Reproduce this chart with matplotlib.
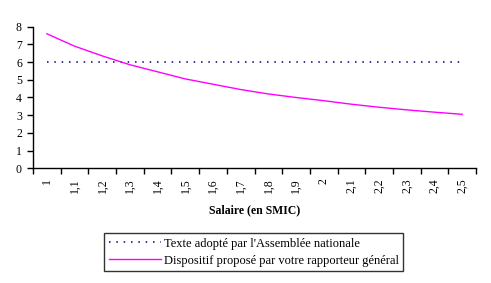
import matplotlib
matplotlib.use("Agg")
import matplotlib.pyplot as plt

categories = ["1", "1,1", "1,2", "1,3", "1,4", "1,5", "1,6", "1,7", "1,8",
              "1,9", "2", "2,1", "2,2", "2,3", "2,4", "2,5"]
texte_adopte = [6, 6, 6, 6, 6, 6, 6, 6, 6, 6, 6, 6, 6, 6, 6, 6]
dispositif = [7.6, 6.9, 6.35, 5.85, 5.45, 5.05, 4.75, 4.45, 4.2, 4.0,
              3.82, 3.62, 3.45, 3.3, 3.17, 3.05]
y_ticks = [0, 1, 2, 3, 4, 5, 6, 7, 8]
label1 = "Texte adopté par l'Assemblée nationale"
label2 = "Dispositif proposé par votre rapporteur général"

plt.rcParams['font.family'] = ['Liberation Serif', 'DejaVu Serif']

fig = plt.figure(figsize=(4.91, 2.83), dpi=100)
ax = fig.add_axes([0.0672, 0.4053, 0.9023, 0.5004])

x = list(range(len(categories)))
ax.plot(x, texte_adopte, color="#000080", linestyle=(0, (1, 3.8)), linewidth=1.1,
        label=label1)
ax.plot(x, dispositif, color="#FF00FF", linewidth=1.0, label=label2)

ax.set_xlim(-0.5, len(categories) - 0.5)
ax.set_ylim(0, 8)
ax.set_yticks(y_ticks)
ax.set_yticklabels([str(v) for v in y_ticks], fontsize=8.5)
ax.set_xticks([i - 0.5 for i in range(len(categories) + 1)], minor=False)
ax.set_xticklabels([""] * (len(categories) + 1))
ax.set_xticks(x, minor=True)
ax.set_xticklabels(categories, minor=True, rotation=90, fontsize=8.5)
ax.tick_params(axis='x', which='minor', length=0, pad=7)
ax.tick_params(axis='x', which='major', length=4, width=1, direction='out')
ax.tick_params(axis='y', length=4, width=1, direction='out', pad=4)

for s in ['top', 'right']:
    ax.spines[s].set_visible(False)
for s in ['left', 'bottom']:
    ax.spines[s].set_linewidth(1)
    ax.spines[s].set_color('black')

ax.set_xlabel("Salaire (en SMIC)", fontsize=8.5, fontweight='bold', labelpad=8)

leg = fig.legend(loc='center', bbox_to_anchor=(0.5163, 0.1095), fontsize=9,
                 frameon=True, fancybox=False, edgecolor='black',
                 handlelength=4.2, handletextpad=0.2, borderpad=0.35,
                 labelspacing=0.4, borderaxespad=0)
leg.get_frame().set_linewidth(1)

fig.savefig("out.png", dpi=100)
